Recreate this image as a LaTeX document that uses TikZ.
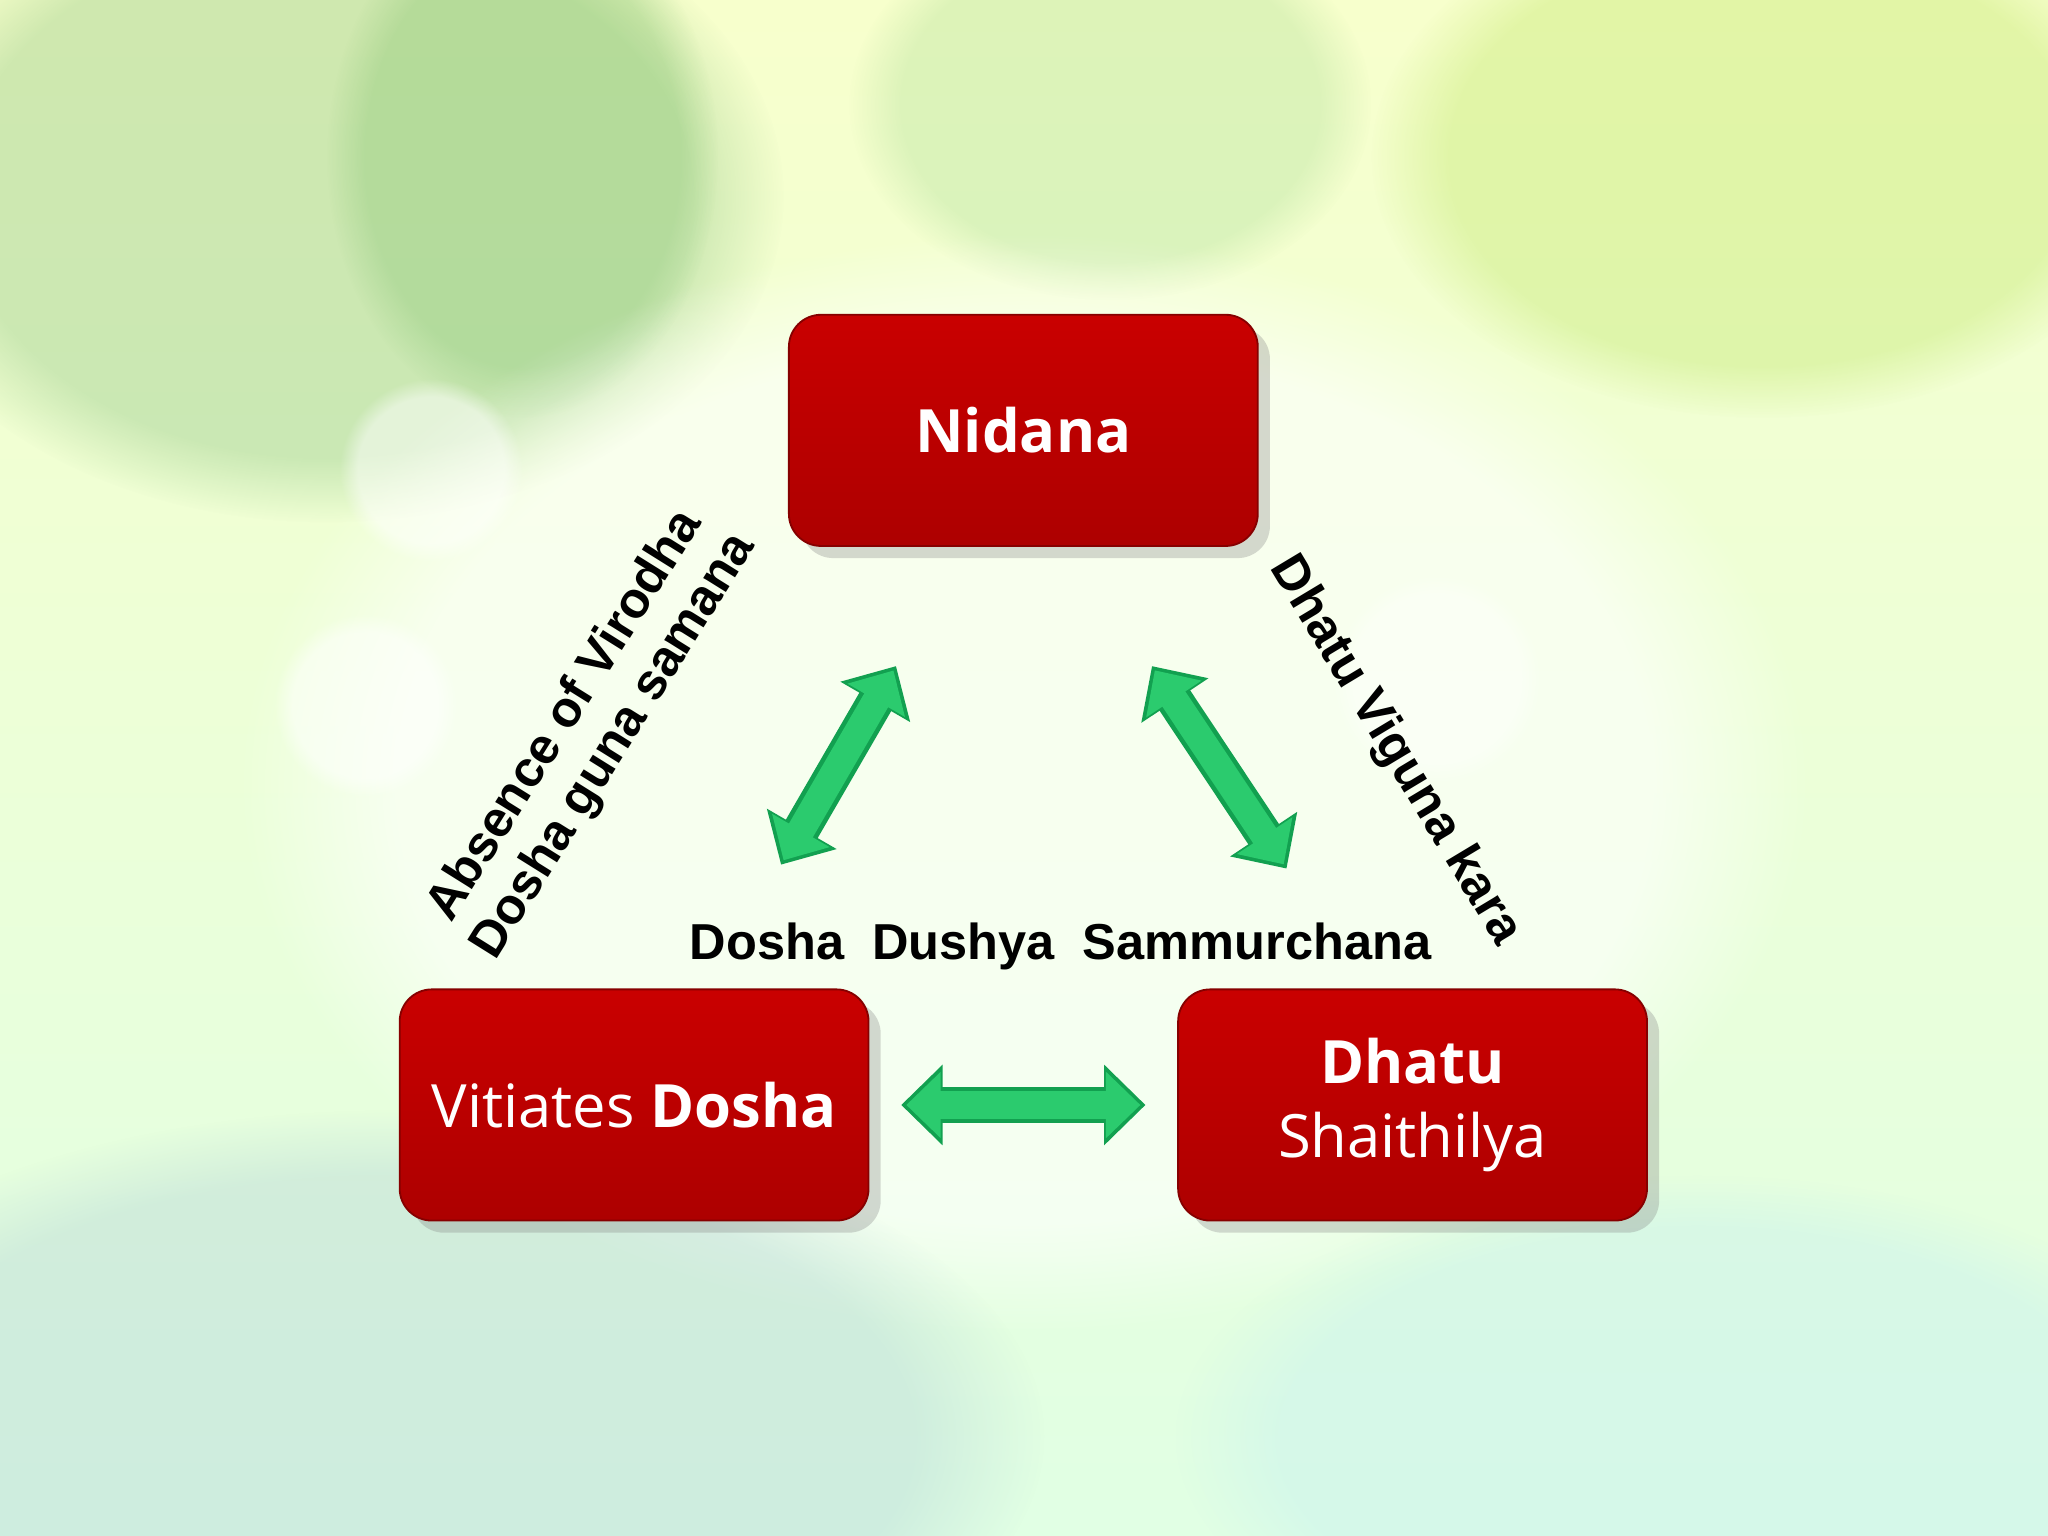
\documentclass[tikz,border=0pt]{standalone}
\usepackage{fontspec}
\setmainfont{Liberation Sans}
\newfontfamily\boxfont{Open Sans}
\usetikzlibrary{arrows.meta,shadows,calc,fadings}
\definecolor{boxred}{HTML}{C00000}
\definecolor{arrgreen}{HTML}{2BCB6E}
\definecolor{arrdark}{HTML}{12A050}
\tikzset{
  redbox/.style={rectangle,rounded corners=7pt,minimum width=359*0.01cm,minimum height=177*0.01cm,
    top color=boxred!85!red,bottom color=boxred!90!black,draw=boxred!70!black,
    drop shadow={opacity=0.3},text=white,font=\boxfont\fontsize{13}{16}\selectfont,align=center},
  lab/.style={font=\bfseries\fontsize{11}{12.5}\selectfont,align=center,text=black},
  blob/.style={path fading=circle with fuzzy edge 20 percent}
}
\begin{document}
\begin{tikzpicture}[x=0.01cm,y=-0.01cm]
\useasboundingbox (0,0) rectangle (1568,1176);
\fill[top color=green!15!yellow!20!white,bottom color=cyan!12!green!12!white] (0,0) rectangle (1568,1176);
\fill[green!30!gray,opacity=0.25,blob] (250,150) ellipse (350 and 250);
\fill[green!50!black,opacity=0.12,blob] (400,120) ellipse (150 and 200);
\fill[yellow!60!green,opacity=0.22,blob] (1350,120) ellipse (300 and 200);
\fill[green!40!gray,opacity=0.15,blob] (850,80) ellipse (200 and 150);
\fill[white,opacity=0.6,blob] (784,600) ellipse (600 and 420);
\fill[white,opacity=0.5,blob] (330,360) circle (70);
\fill[white,opacity=0.5,blob] (280,540) circle (70);
\fill[white,opacity=0.4,blob] (1100,520) circle (80);
\fill[cyan!40!gray!60!white,opacity=0.3,blob] (300,1100) ellipse (500 and 250);
\fill[cyan!30!white,opacity=0.25,blob] (1300,1100) ellipse (400 and 200);

\node[redbox] (nid) at (783.5,329.5) {\bfseries Nidana};
\node[redbox] (vit) at (485.5,846) {Vitiates \textbf{Dosha}};
\node[redbox] (dha) at (1081.5,846) {\textbf{Dhatu}\\Shaithilya};

\coordinate (l1) at (598,662); \coordinate (l2) at (686,510);
\coordinate (r1) at (882,510); \coordinate (r2) at (985,665);
\coordinate (b1) at (690,846); \coordinate (b2) at (877,846);
\foreach \a/\b in {l1/l2,r1/r2,b1/b2}{
  \draw[line width=8pt,arrdark,{Triangle[width=17pt 0,length=9pt 0]}-{Triangle[width=17pt 0,length=9pt 0]}] (\a) -- (\b);
  \draw[line width=6pt,arrgreen,{Triangle[width=14pt 0,length=7.5pt 0]}-{Triangle[width=14pt 0,length=7.5pt 0]}] ($(\a)!1.1pt!(\b)$) -- ($(\b)!1.1pt!(\a)$);
}
\node[lab,rotate=58] (labl) at (452,560) {Absence of Virodha\\Dosha guna samana};
\node[lab,rotate=-59] (labr) at (1068,575) {Dhatu Viguna kara};
\node[lab] (labb) at (812,725) {Dosha\ \ Dushya\ \ Sammurchana};
\end{tikzpicture}
\end{document}
